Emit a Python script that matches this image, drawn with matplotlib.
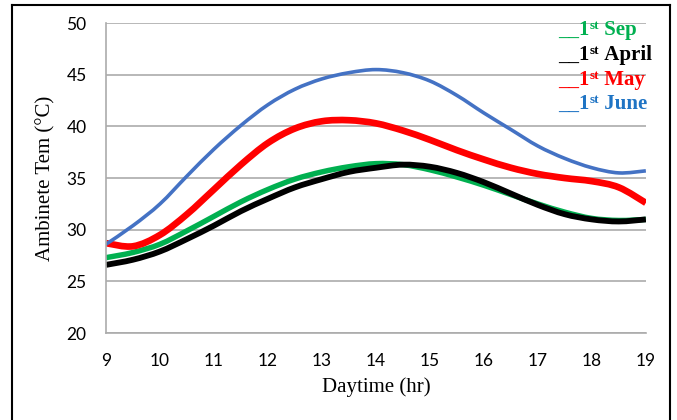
import matplotlib
matplotlib.use("Agg")
import matplotlib.pyplot as plt
from matplotlib.lines import Line2D
from matplotlib.path import Path
from matplotlib.patches import PathPatch
from matplotlib.offsetbox import TextArea, HPacker, AnchoredOffsetbox

# half-hourly readings, 9:00 .. 19:00
hours = [9, 9.5, 10, 10.5, 11, 11.5, 12, 12.5, 13, 13.5, 14, 14.5,
         15, 15.5, 16, 16.5, 17, 17.5, 18, 18.5, 19]
sep = [27.3, 27.8, 28.6, 29.9, 31.3, 32.7, 33.9, 34.9, 35.6, 36.1, 36.4, 36.3,
       35.8, 35.1, 34.3, 33.4, 32.5, 31.7, 31.1, 30.9, 31.0]
april = [26.6, 27.1, 27.9, 29.1, 30.4, 31.8, 33.0, 34.1, 34.9, 35.6, 36.0, 36.3,
         36.1, 35.5, 34.6, 33.5, 32.4, 31.5, 31.0, 30.8, 31.0]
may = [28.7, 28.4, 29.5, 31.5, 33.9, 36.3, 38.4, 39.8, 40.5, 40.6, 40.3, 39.6,
       38.7, 37.7, 36.8, 36.0, 35.4, 35.0, 34.7, 34.1, 32.6]
june = [28.6, 30.4, 32.5, 35.2, 37.8, 40.1, 42.1, 43.6, 44.6, 45.2, 45.5, 45.2,
        44.4, 43.0, 41.3, 39.7, 38.1, 36.9, 36.0, 35.5, 35.7]

xticks = list(range(9, 20))
yticks = list(range(20, 51, 5))


def smooth_line(ax, xs, ys, color, lw):
    # Excel-like smoothed line: cubic bezier segments through the points
    n = len(xs)
    verts = [(xs[0], ys[0])]
    codes = [Path.MOVETO]
    for i in range(n - 1):
        x0, y0 = (xs[i - 1], ys[i - 1]) if i > 0 else (xs[i], ys[i])
        x1, y1 = xs[i], ys[i]
        x2, y2 = xs[i + 1], ys[i + 1]
        x3, y3 = (xs[i + 2], ys[i + 2]) if i + 2 < n else (x2, y2)
        verts += [(x1 + (x2 - x0) / 6, y1 + (y2 - y0) / 6),
                  (x2 - (x3 - x1) / 6, y2 - (y3 - y1) / 6),
                  (x2, y2)]
        codes += [Path.CURVE4] * 3
    ax.add_patch(PathPatch(Path(verts, codes), fill=False, edgecolor=color,
                           lw=lw, capstyle='butt', joinstyle='round'))


fig = plt.figure(figsize=(6.77, 4.2), dpi=100)
ax = fig.add_axes([0.1566, 0.207, 0.7974, 0.738])

smooth_line(ax, hours, sep, '#00B050', 3.9)
smooth_line(ax, hours, april, 'black', 4.2)
smooth_line(ax, hours, may, '#FF0000', 4.8)
smooth_line(ax, hours, june, '#4472C4', 2.6)

ax.set_xlim(9, 19)
ax.set_ylim(20, 50)
ax.set_xticks(xticks)
ax.set_yticks(yticks)
ax.grid(axis='y', color='#ABABAB', lw=1.2)
ax.set_axisbelow(True)
for s in ['top', 'right']:
    ax.spines[s].set_visible(False)
for s in ['left', 'bottom']:
    ax.spines[s].set_color('#ABABAB')
    ax.spines[s].set_linewidth(1.2)
ax.tick_params(length=0, labelsize=12.5, colors='black')
ax.tick_params(axis='y', pad=14)
ax.tick_params(axis='x', pad=14)
for lab in ax.get_xticklabels() + ax.get_yticklabels():
    lab.set_family('Lato')

ax.set_xlabel('Daytime (hr)', family='Liberation Serif', fontsize=15, labelpad=6)
ax.set_ylabel('Ambinete Tem (°C)', family='Liberation Serif', fontsize=15, labelpad=8)

legend = [('Sep', '#00B050', 0.977),
          ('April', 'black', 0.897),
          ('May', '#FF0000', 0.816),
          ('June', '#1F74C4', 0.739)]
for name, col, yy in legend:
    big = dict(color=col, family='Liberation Serif', fontweight='bold', fontsize=15)
    small = dict(color=col, family='Liberation Serif', fontweight='bold', fontsize=9.5)
    box = HPacker(children=[TextArea('__1', textprops=big),
                            TextArea('st', textprops=small),
                            TextArea('\u00a0' + name, textprops=big)],
                  align='top', pad=0, sep=0)
    ab = AnchoredOffsetbox(loc='center left', child=box, pad=0, borderpad=0,
                           frameon=False, bbox_to_anchor=(0.837, yy),
                           bbox_transform=ax.transAxes)
    ax.add_artist(ab)

# outer frame
for xs, ys in [([12/677, 12/677], [0, 1-5/420]),
               ([12/677, 670/677], [1-5/420, 1-5/420]),
               ([670/677, 670/677], [1-5/420, 0])]:
    fig.add_artist(Line2D(xs, ys, color='black', lw=1.5, transform=fig.transFigure))

fig.savefig('out.png', dpi=100)
